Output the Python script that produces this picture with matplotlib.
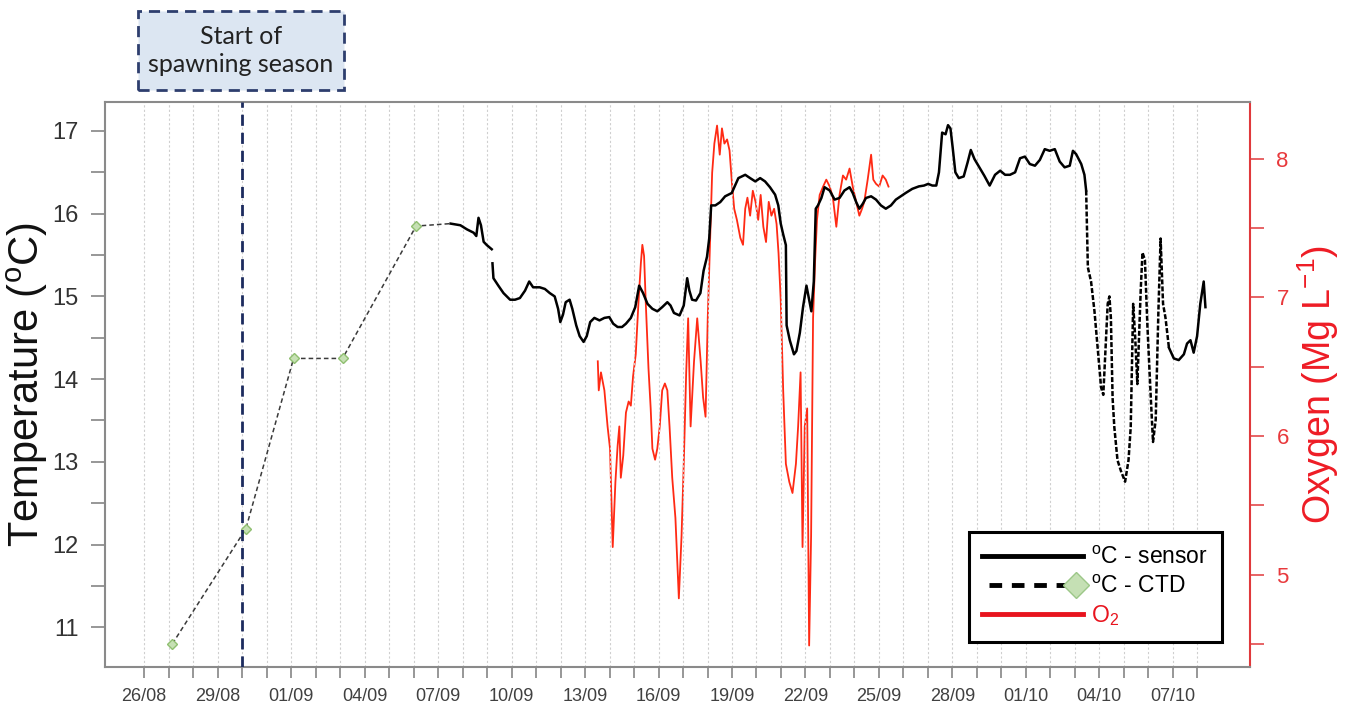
import numpy as np
import pandas as pd
import matplotlib
matplotlib.use("Agg")
import matplotlib.pyplot as plt
import matplotlib.dates as mdates
from matplotlib.lines import Line2D
from matplotlib.legend_handler import HandlerLine2D
from matplotlib.patches import Rectangle
from matplotlib.ticker import MultipleLocator, FixedLocator

plt.rcParams["font.family"] = ["Liberation Sans", "DejaVu Sans"]
plt.rcParams["mathtext.default"] = "regular"

# all series are in days since 26/08 00:00
START = pd.Timestamp("2019-08-26")
spawning_start_day = 4.0

ctd_day = [1.15, 4.15, 6.1, 8.1, 11.1]
ctd_temp = [10.80, 12.19, 14.25, 14.25, 15.85]

sensor_day = [
    12.51, 12.91, 13.18, 13.45, 13.56, 13.65, 13.75, 13.86, 13.99, 14.19, np.nan,
    14.22, 14.26, 14.46, 14.67, 14.94, 15.14, 15.34, 15.55, 15.72, 15.88, 16.15,
    16.36, 16.56, 16.76, 16.90, 16.99, 17.10, 17.21, 17.37, 17.48, 17.64, 17.78,
    17.94, 18.07, 18.21, 18.38, 18.59, 18.79, 18.99, 19.15, 19.33, 19.51, 19.67,
    19.87, 20.05, 20.21, 20.37, 20.55, 20.75, 20.95, 21.15, 21.36, 21.49, 21.63,
    21.86, 22.03, 22.17, 22.26, 22.37, 22.53, 22.71, 22.84, 22.98, 23.07, 23.15,
    23.32, 23.52, 23.72, 23.99, 24.26, 24.54, 24.74, 24.95, 25.15, 25.35, 25.55,
    25.76, 25.89, 25.99, 26.09, 26.20, 26.23, 26.36, 26.53, 26.63, 26.77,
    26.90, 27.04, 27.24, 27.34, 27.42, 27.51, 27.65, 27.78,
    27.99, 28.19, 28.39, 28.59, 28.80, 28.93, 29.07, 29.20, 29.34, 29.47, 29.68,
    29.88, 30.08, 30.28, 30.49, 30.69, 30.89, 31.09, 31.36, 31.63, 31.84, 32.01,
    32.18, 32.34, 32.45, 32.58, 32.72, 32.82, 32.92, 33.01, 33.12, 33.26, 33.46,
    33.62, 33.75, 33.90, 34.10, 34.30, 34.52, 34.74, 34.95, 35.15, 35.35, 35.56,
    35.76, 35.96, 36.16, 36.37, 36.57, 36.77, 36.97, 37.18, 37.38, 37.58, 37.79,
    37.92, 38.05, 38.26, 38.39, 38.46, 38.53, 38.66, 38.80, 38.93, 39.07, 39.16,
    39.24, 39.34, 39.41, 39.47, 39.54, 39.61, 39.74, 39.88, 40.05, 40.19, 40.28,
    40.38, 40.46, 40.55, 40.69, 40.76, 40.86, 40.96, 41.10, 41.19, 41.30, 41.41,
    41.50, 41.60, 41.70, 41.84, 42.04, 42.24, 42.45, 42.58, 42.72, 42.85, 42.99,
    43.12, 43.26, 43.33,
]
sensor_temp = [
    15.88, 15.86, 15.81, 15.77, 15.73, 15.95, 15.86, 15.66, 15.62, 15.57, np.nan,
    15.40, 15.22, 15.13, 15.04, 14.96, 14.96, 14.98, 15.07, 15.18, 15.11, 15.11,
    15.09, 15.04, 15.00, 14.85, 14.69, 14.78, 14.93, 14.96, 14.85, 14.65, 14.52,
    14.45, 14.52, 14.69, 14.74, 14.71, 14.74, 14.75, 14.67, 14.63, 14.63, 14.67,
    14.74, 14.87, 15.13, 15.04, 14.91, 14.85, 14.82, 14.87, 14.93, 14.89, 14.80,
    14.77, 14.89, 15.22, 15.07, 14.96, 14.95, 15.04, 15.31, 15.48, 15.70, 16.10,
    16.10, 16.14, 16.21, 16.25, 16.43, 16.47, 16.43, 16.39, 16.43, 16.39, 16.32,
    16.23, 16.10, 15.88, 15.75, 15.62, 14.65, 14.47, 14.30, 14.34, 14.56,
    14.87, 15.13, 14.82, 15.18, 16.06, 16.10, 16.19, 16.32,
    16.28, 16.17, 16.19, 16.28, 16.32, 16.25, 16.14, 16.06, 16.12, 16.19, 16.21,
    16.17, 16.10, 16.06, 16.10, 16.17, 16.21, 16.25, 16.30, 16.33, 16.34, 16.36,
    16.34, 16.34, 16.50, 16.98, 16.96, 17.07, 17.03, 16.80, 16.50, 16.43, 16.45,
    16.62, 16.77, 16.66, 16.56, 16.46, 16.34, 16.47, 16.52, 16.47, 16.47, 16.50,
    16.67, 16.69, 16.60, 16.58, 16.65, 16.78, 16.76, 16.78, 16.63, 16.56, 16.58,
    16.76, 16.72, 16.60, 16.47, 16.28, 15.35, 15.18, 14.82, 14.38, 13.90, 13.81,
    14.30, 14.91, 15.00, 14.74, 13.77, 13.42, 13.02, 12.89, 12.76, 13.02, 13.42,
    14.91, 14.52, 13.94, 15.09, 15.53, 15.44, 14.65, 13.77, 13.24, 13.51, 14.82,
    15.70, 14.91, 14.74, 14.38, 14.25, 14.23, 14.30, 14.43, 14.47, 14.32, 14.52,
    14.91, 15.18, 14.87,
]

o2_day = [
    18.52, 18.56, 18.65, 18.79, 18.92, 19.02, 19.13, 19.24, 19.33, 19.40, 19.46,
    19.56, 19.67, 19.78, 19.87, 19.96, 20.07, 20.18, 20.28, 20.34, 20.41, 20.48,
    20.59, 20.68, 20.75, 20.86, 20.95, 21.05, 21.15, 21.26, 21.36, 21.45, 21.56,
    21.69, 21.83, 21.94, 22.03, 22.13, 22.21, 22.26, 22.31, 22.45, 22.58, 22.72,
    22.82, 22.92, 23.01, 23.09, 23.19, 23.28, 23.39, 23.50, 23.59, 23.69, 23.80,
    23.90, 24.00, 24.09, 24.20, 24.34, 24.45, 24.54, 24.63, 24.74, 24.85, 24.96,
    25.07, 25.17, 25.28, 25.39, 25.50, 25.61, 25.72, 25.82, 25.90, 25.99, 26.09,
    26.20, 26.34, 26.47, 26.61, 26.70, 26.80, 26.88, 26.97, 27.07, 27.15, 27.23,
    27.31, 27.39, 27.47, 27.58, 27.72, 27.85, 27.99, 28.12, 28.26, 28.39, 28.53,
    28.66, 28.80, 28.93, 29.07, 29.20, 29.31, 29.40, 29.54, 29.68, 29.77, 29.88,
    30.01, 30.15, 30.28, 30.39,
]
o2_val = [
    6.54, 6.33, 6.46, 6.33, 6.07, 5.91, 5.20, 5.67, 5.93, 6.07, 5.70,
    5.86, 6.17, 6.25, 6.22, 6.43, 6.59, 6.96, 7.25, 7.38, 7.30, 6.96,
    6.49, 6.20, 5.91, 5.83, 5.91, 6.07, 6.33, 6.38, 6.33, 6.07, 5.70,
    5.41, 4.83, 5.28, 5.80, 6.46, 6.85, 6.46, 6.07, 6.54, 6.85, 6.54,
    6.28, 6.14, 6.85, 7.32, 7.90, 8.11, 8.24, 8.03, 8.22, 8.11, 8.14,
    8.06, 7.82, 7.64, 7.56, 7.43, 7.38, 7.64, 7.72, 7.59, 7.77, 7.69,
    7.56, 7.74, 7.51, 7.40, 7.69, 7.59, 7.64, 7.53, 7.32, 6.98, 6.33,
    5.80, 5.67, 5.59, 5.80, 6.07, 6.46, 5.20, 6.07, 6.20, 4.49, 5.28,
    6.85, 7.25, 7.56, 7.74, 7.80, 7.85, 7.80, 7.72, 7.51, 7.74, 7.88,
    7.85, 7.93, 7.80, 7.69, 7.59, 7.64, 7.69, 7.85, 8.03, 7.85, 7.82,
    7.80, 7.88, 7.85, 7.80,
]

base = mdates.date2num(START.to_pydatetime())


def to_x(days):
    return base + np.asarray(days, dtype=float)


class EndMarkerHandler(HandlerLine2D):
    """Legend line with its marker only at the right-hand end."""

    def create_artists(self, *args, **kwargs):
        artists = super().create_artists(*args, **kwargs)
        for art in artists:
            art.set_markevery([1])
        return artists


fig = plt.figure(figsize=(13.52, 7.13), dpi=100)
ax = fig.add_axes([105 / 1352, 46 / 713, 1145 / 1352, 565 / 713])
ax2 = ax.twinx()

# black sensor trace, sparse stretch in early October drawn broken
sd = np.array(sensor_day)
st = np.array(sensor_temp)
sparse = (sd > 38.46) & (sd < 41.84)
solid = np.where(sparse, np.nan, st)
broken = np.where((sd < 38.46) | (sd > 41.84), np.nan, st)
ax.plot(to_x(sd), solid, color="black", lw=1.8, zorder=4)
ax.plot(to_x(sd), broken, color="black", lw=1.8, dashes=(2.0, 0.8), zorder=4)

# CTD casts, joined to the start of the sensor record
ax.plot(to_x(ctd_day + [sensor_day[0]]), ctd_temp + [sensor_temp[0]],
        color="#3a3a3a", lw=1.1, dashes=(3, 2), zorder=3)
ax.plot(to_x(ctd_day), ctd_temp, ls="none", marker="D", ms=5.5,
        mfc="#c6e0b4", mec="#8fbf70", mew=1.0, zorder=5)

ax2.plot(to_x(o2_day), o2_val, color="#ff2a14", lw=1.3, zorder=3)
ax.set_zorder(ax2.get_zorder() + 1)
ax.patch.set_visible(False)

ax.axvline(to_x([spawning_start_day])[0], color="#1c2b5e", lw=2.0,
           dashes=(4, 2.5), zorder=6)

# axes limits and ticks
ax.set_xlim(to_x([-1.6])[0], to_x([45.15])[0])
ax.set_ylim(10.52, 17.35)
ax2.set_ylim(4.335, 8.41)

ax.xaxis.set_major_locator(FixedLocator(to_x(np.arange(0, 43, 3))))
ax.xaxis.set_minor_locator(FixedLocator(to_x(np.arange(0, 44, 1))))
ax.xaxis.set_major_formatter(mdates.DateFormatter("%d/%m"))
ax.tick_params(axis="x", which="both", direction="out", length=8, width=1.1,
               color="#7a7a7a", labelsize=13, labelcolor="#404040", pad=7)
ax.grid(axis="x", which="both", color="#cfcfcf", lw=0.8, ls=(0, (2, 2)))

ax.yaxis.set_major_locator(MultipleLocator(1))
ax.yaxis.set_minor_locator(MultipleLocator(0.5))
ax.tick_params(axis="y", which="both", direction="out", length=10, width=1.1,
               color="#7a7a7a", labelsize=17, labelcolor="#333333", pad=9)

ax2.yaxis.set_major_locator(MultipleLocator(1))
ax2.yaxis.set_minor_locator(MultipleLocator(0.5))
ax2.tick_params(axis="y", which="both", direction="out", length=10, width=1.1,
                color="#e0393c", labelsize=16, labelcolor="#e8393c", pad=9)

for name in ["left", "top", "bottom"]:
    ax.spines[name].set_color("#8a8a8a")
    ax.spines[name].set_linewidth(1.5)
    ax2.spines[name].set_visible(False)
ax.spines["right"].set_visible(False)
ax2.spines["right"].set_color("#e0393c")
ax2.spines["right"].set_linewidth(1.5)

ax.set_ylabel("Temperature ($^{o}$C)", fontsize=30, color="#111111")
ax.yaxis.set_label_coords(-0.048, 0.5)
ax2.set_ylabel("Oxygen (Mg L$^{-1}$)", fontsize=27, color="#ee1c25")
ax2.yaxis.set_label_coords(1.040, 0.5)

# legend
h_sensor = Line2D([], [], color="black", lw=3.5)
h_ctd = Line2D([], [], color="black", lw=3.5, dashes=(2.6, 2.0), marker="D",
               ms=13, mfc="#c5e0b4", mec="#9cc788")
h_o2 = Line2D([], [], color="#e8141e", lw=3.5)
leg = ax.legend([h_sensor, h_ctd, h_o2],
                ["$^{o}$C - sensor", "$^{o}$C - CTD", "O$_2$"],
                handler_map={h_ctd: EndMarkerHandler(numpoints=2)},
                loc="lower right", bbox_to_anchor=(0.9755, 0.044),
                borderaxespad=0, fontsize=16.5, frameon=True, fancybox=False,
                edgecolor="black", framealpha=1, handlelength=4.4,
                handletextpad=0.35, borderpad=0.6, labelspacing=0.25)
leg.get_frame().set_linewidth(2.2)
leg.texts[2].set_color("#e8141e")
leg.set_zorder(10)

# annotation box above the spawning line
fig.add_artist(Rectangle((138 / 1352, 623 / 713), 206 / 1352, 79 / 713,
                         transform=fig.transFigure, facecolor="#dce6f2",
                         edgecolor="#2e3e6e", lw=2.0, ls=(0, (4, 2.5))))
fig.text(241 / 1352, 1 - 50.5 / 713, "Start of\nspawning season",
         ha="center", va="center", fontsize=18, family="Lato",
         color="#222222", linespacing=1.3)

fig.savefig("out.png", dpi=100)
